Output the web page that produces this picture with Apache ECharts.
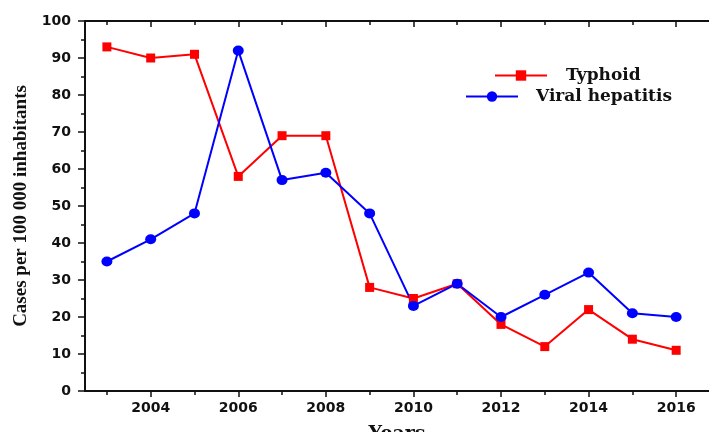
<!DOCTYPE html>
<html><head><meta charset="utf-8">
<script src="https://cdn.jsdelivr.net/npm/echarts@6/dist/echarts.min.js"></script>
<style>html,body{margin:0;padding:0;background:#fff}#c{width:709px;height:432px}</style>
</head><body><div id="c"></div>
<script>
const years = [2003,2004,2005,2006,2007,2008,2009,2010,2011,2012,2013,2014,2015,2016];
const typhoid = [93,90,91,58,69,69,28,25,29,18,12,22,14,11];
const hepatitis = [35,41,48,92,57,59,48,23,29,20,26,32,21,20];
const majorYears = [2004,2006,2008,2010,2012,2014,2016];
const minorYears = [2003,2005,2007,2009,2011,2013,2015];

const chart = echarts.init(document.getElementById('c'));
const lbl = {fontFamily:'DejaVu Sans', fontWeight:'bold', fontSize:14, color:'#111'};
const serif = 'DejaVu Serif';
const black = {color:'#111', width:2};
function xa(pos, vals, len, inside, showLine, showLabel, extra){
  return Object.assign({type:'value', position:pos, min:2002.5, max:2016.75,
    axisLine:{show:showLine, onZero:false, lineStyle:black},
    axisTick:{show:true, customValues:vals, length:len, inside:inside, lineStyle:{color:'#111', width:1.5}},
    axisLabel:{show:showLabel, customValues:vals, margin:10, formatter:v=>String(v), ...lbl},
    splitLine:{show:false}}, extra||{});
}
chart.setOption({
  animation:false,
  backgroundColor:'#fff',
  grid:{left:85, top:21, right:0, bottom:41, outerBoundsMode:'none', containLabel:false},
  legend:[
    {data:['Typhoid'], left:489, top:62, orient:'vertical', itemWidth:52, itemHeight:13,
     textStyle:{fontFamily:serif, fontWeight:'bold', fontSize:17, color:'#111', padding:[0,0,0,14]}},
    {data:['Viral hepatitis'], left:460, top:83, orient:'vertical', itemWidth:52, itemHeight:13,
     textStyle:{fontFamily:serif, fontWeight:'bold', fontSize:17, color:'#111', padding:[0,0,0,13]}}
  ],
  xAxis:[
    xa('bottom', majorYears, 6, false, true, true, {name:'Years', nameLocation:'middle', nameGap:34,
      nameTextStyle:{fontFamily:serif, fontWeight:'bold', fontSize:19, color:'#111'}}),
    xa('bottom', minorYears, 4, false, false, false),
    xa('top', majorYears, 6, true, true, false),
    xa('top', minorYears, 4, true, false, false)
  ],
  yAxis:{type:'value', min:0, max:100, interval:10,
    name:'Cases per 100 000 inhabitants', nameLocation:'middle', nameGap:53,
    nameTextStyle:{fontFamily:'Liberation Serif', fontWeight:'bold', fontSize:19, color:'#111'},
    axisLine:{show:true, lineStyle:black},
    axisTick:{show:true, length:7, lineStyle:{color:'#111', width:1.5}},
    minorTick:{show:true, splitNumber:2, length:4, lineStyle:{color:'#111', width:1.5}},
    axisLabel:{margin:14, ...lbl},
    splitLine:{show:false}},
  series:[
    {name:'Typhoid', type:'line', data:years.map((y,i)=>[y,typhoid[i]]), symbol:'rect', symbolSize:9,
     itemStyle:{color:'#ff0000'}, lineStyle:{color:'#ff0000', width:2}},
    {name:'Viral hepatitis', type:'line', data:years.map((y,i)=>[y,hepatitis[i]]), symbol:'circle', symbolSize:[11,10],
     itemStyle:{color:'#0000ff'}, lineStyle:{color:'#0000ff', width:2}}
  ]
});
</script></body></html>
